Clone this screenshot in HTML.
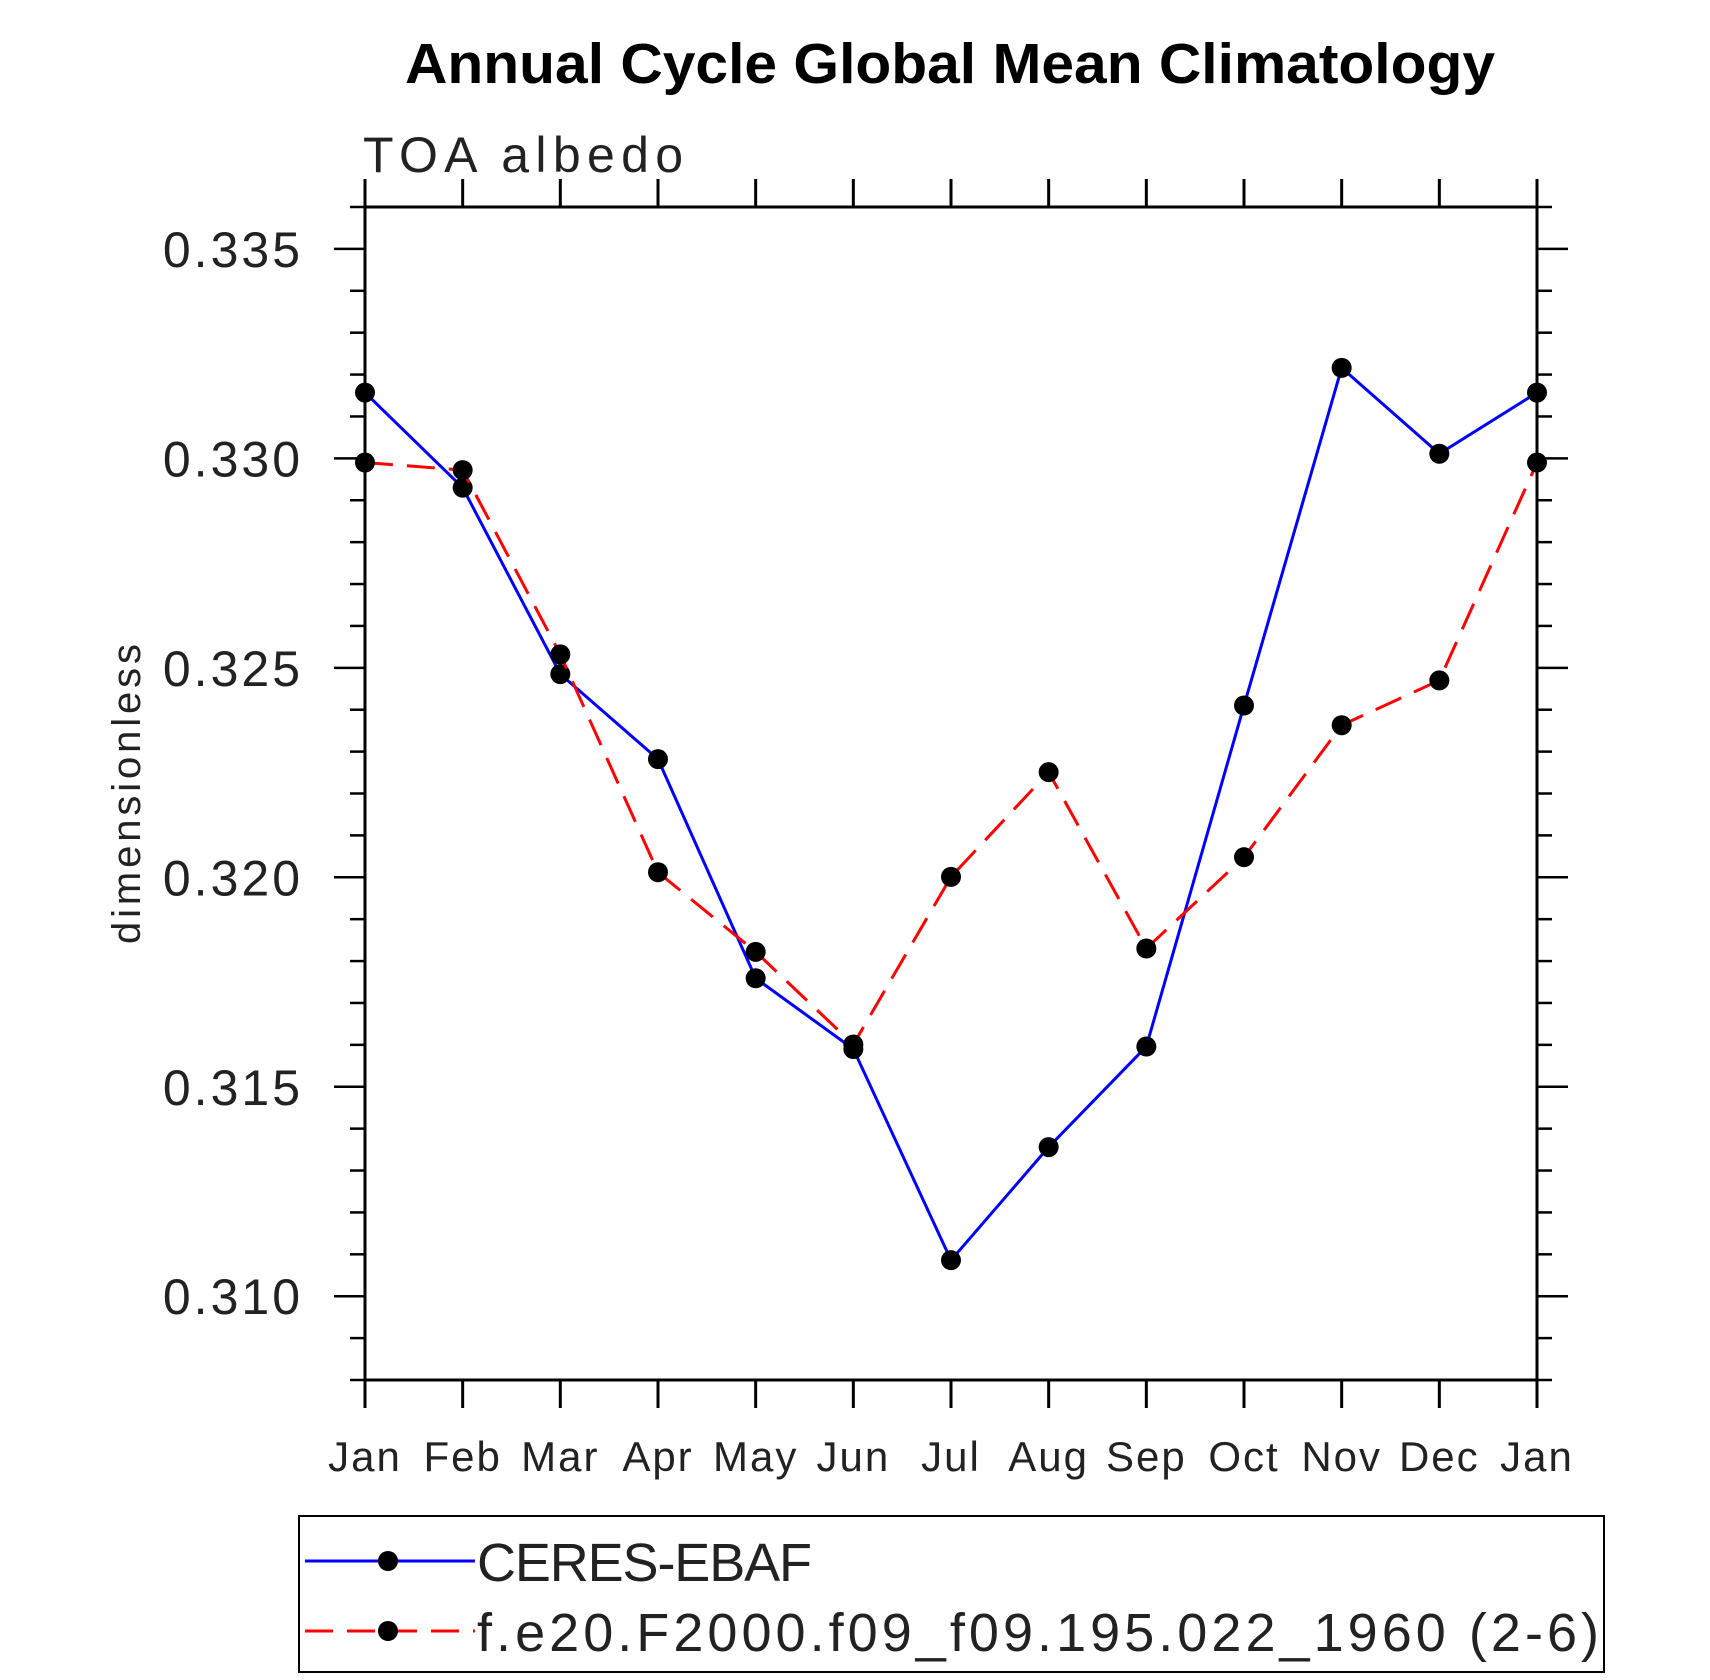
<!DOCTYPE html>
<html><head><meta charset="utf-8"><style>html,body{margin:0;padding:0;background:#fff}svg{display:block}</style></head>
<body>
<svg id="chart" width="1710" height="1680" xmlns="http://www.w3.org/2000/svg" font-family="Liberation Sans, sans-serif">
<text x="950" y="83" text-anchor="middle" font-size="57" font-weight="bold" textLength="1090" lengthAdjust="spacingAndGlyphs">Annual Cycle Global Mean Climatology</text>
<text x="363" y="172" font-size="50" fill="#222" textLength="320">TOA albedo</text>
<text transform="translate(140,794) rotate(-90)" text-anchor="middle" font-size="40" fill="#222" textLength="300">dimensionless</text>
<g id="axes"></g>
<g id="series"></g>
<g id="legend"></g>
</svg>
<script>
const months = ["Jan","Feb","Mar","Apr","May","Jun","Jul","Aug","Sep","Oct","Nov","Dec","Jan"];
const ceres = [0.33157,0.32930,0.32485,0.32282,0.31759,0.31590,0.31086,0.31356,0.31596,0.32410,0.33216,0.33011,0.33157];
const model = [0.32990,0.32972,0.32532,0.32012,0.31822,0.31601,0.32001,0.32251,0.31830,0.32048,0.32363,0.32470,0.32990];
const yTicks = [0.310,0.315,0.320,0.325,0.330,0.335];
const yTickLabels = ["0.310","0.315","0.320","0.325","0.330","0.335"];
const seriesNames = ["CERES-EBAF","f.e20.F2000.f09_f09.195.022_1960 (2-6)"];

const NS="http://www.w3.org/2000/svg";
const L=365,R=1537,T=207,B=1380,YMIN=0.308,YMAX=0.336;
const xs=i=>L+(R-L)*i/(months.length-1);
const ys=v=>B-(v-YMIN)/(YMAX-YMIN)*(B-T);
function mk(tag,attrs,parent){const e=document.createElementNS(NS,tag);for(const k in attrs)e.setAttribute(k,attrs[k]);parent.appendChild(e);return e;}
const ax=document.getElementById('axes');
const frame=mk('rect',{x:L,y:T,width:R-L,height:B-T,fill:'none',stroke:'#000','stroke-width':3},ax);


months.forEach((m,i)=>{
  const x=xs(i);
  mk('line',{x1:x,x2:x,y1:B,y2:B+28,stroke:'#000','stroke-width':3},ax);
  mk('line',{x1:x,x2:x,y1:T,y2:T-28,stroke:'#000','stroke-width':3},ax);
  const t=mk('text',{x:x,y:1471,'text-anchor':'middle','font-size':42,fill:'#222','letter-spacing':2},ax);
  t.textContent=m;
  
  
});
for(let k=Math.round(YMIN*1000);k<=Math.round(YMAX*1000);k++){
  const v=k/1000,y=ys(v),major=k%5===0,len=major?31:15;
  mk('line',{x1:L-len,x2:L,y1:y,y2:y,stroke:'#000','stroke-width':2.5},ax);
  mk('line',{x1:R,x2:R+len,y1:y,y2:y,stroke:'#000','stroke-width':2.5},ax);
}
yTicks.forEach((v,i)=>{
  const t=mk('text',{x:303,y:ys(v)+18,'text-anchor':'end','font-size':50,fill:'#222','letter-spacing':3},ax);
  t.textContent=yTickLabels[i];
  
  
});
const sg=document.getElementById('series');
function drawSeries(vals,color,dash,name){
  const g=mk('g',{},sg);
  
  
  const pts=vals.map((v,i)=>xs(i)+','+ys(v)).join(' ');
  const a={points:pts,fill:'none',stroke:color,'stroke-width':3};
  if(dash)a['stroke-dasharray']=dash;
  mk('polyline',a,g);
  vals.forEach((v,i)=>{
    const c=mk('circle',{cx:xs(i),cy:ys(v),r:10,fill:'#000'},g);
    
    
  });
}
drawSeries(ceres,'#0000ff',null,'series-ceres-ebaf');
drawSeries(model,'#ff0000','28 14','series-model');
const lg=document.getElementById('legend');
const box=mk('rect',{x:299,y:1516,width:1305,height:156,fill:'none',stroke:'#000','stroke-width':2},lg);


[[1561,'#0000ff',null],[1631,'#ff0000','28 14']].forEach((r,i)=>{
  const g=mk('g',{},lg);
  
  
  const a={x1:305,x2:475,y1:r[0],y2:r[0],stroke:r[1],'stroke-width':3};
  if(r[2])a['stroke-dasharray']=r[2];
  mk('line',a,g);
  mk('circle',{cx:388,cy:r[0],r:10,fill:'#000'},g);
  const t=mk('text',{x:477,y:r[0]+20,'font-size':54,fill:'#222'},g);
  t.textContent=seriesNames[i];
  if(i===1)t.setAttribute('textLength',1122);
  else t.setAttribute('textLength',335);
});
</script>
</body></html>
